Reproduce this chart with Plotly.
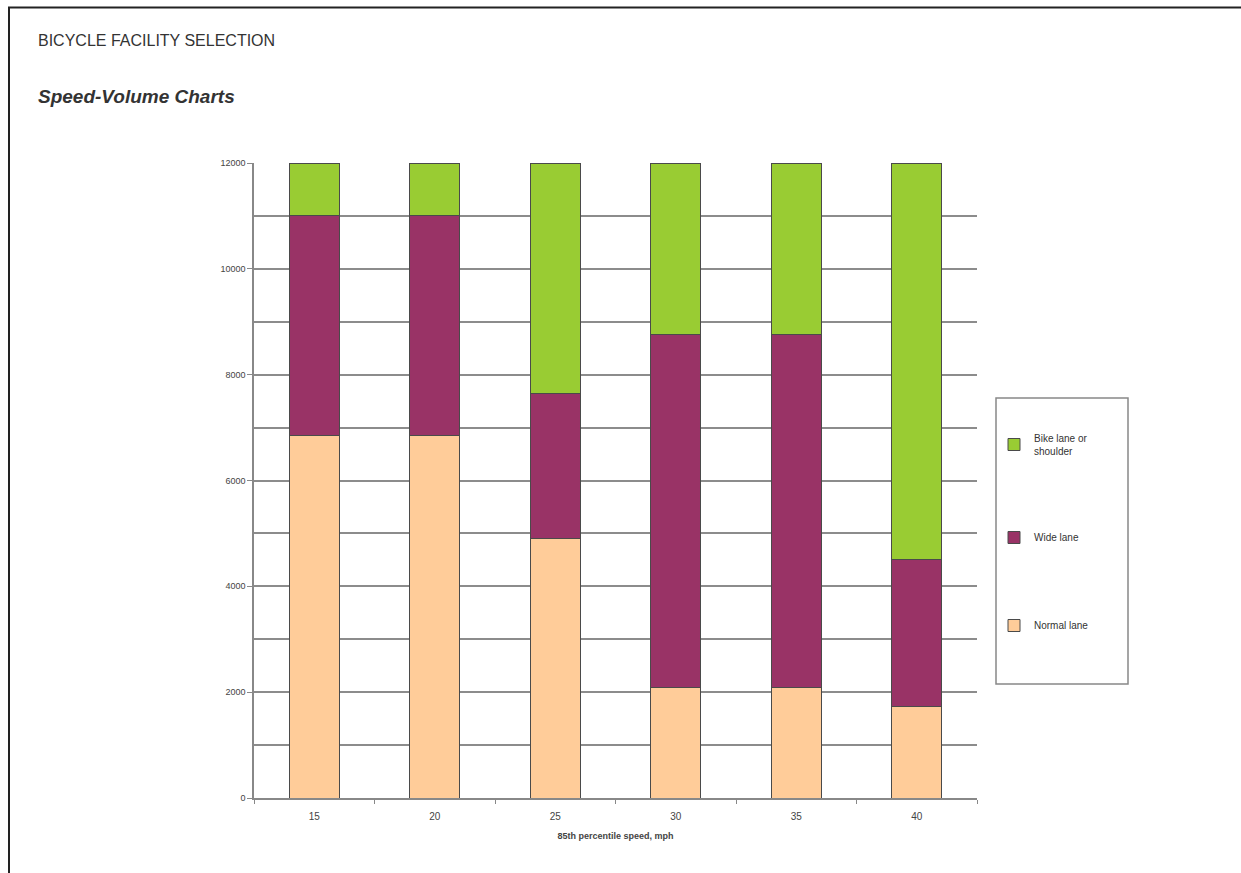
import plotly.graph_objects as go

W, H = 1241, 873
L, R, T, B = 254, 977, 163, 798  # plot area in pixels

speeds = ["15", "20", "25", "30", "35", "40"]
normal_lane = [6850, 6850, 4900, 2080, 2080, 1720]
wide_lane = [4150, 4150, 2750, 6670, 6670, 2780]
bike_lane = [1000, 1000, 4350, 3250, 3250, 7500]
y_ticks = [0, 2000, 4000, 6000, 8000, 10000, 12000]
y_tick_text = [str(v) for v in y_ticks]

def px(x):
    return (x - L) / (R - L)

def py(y):
    return (B - y) / (B - T)

FONT = "Liberation Sans, Arial, sans-serif"
outline = dict(color="#4a4a4a", width=1)

fig = go.Figure()
fig.add_trace(go.Bar(x=speeds, y=normal_lane, name="Normal lane", legendgroup="n", legendrank=3,
                     marker=dict(color="#ffcc99", line=outline)))
fig.add_trace(go.Bar(x=speeds, y=wide_lane, name="Wide lane", legendgroup="w", legendrank=2,
                     marker=dict(color="#993366", line=outline)))
fig.add_trace(go.Bar(x=speeds, y=bike_lane, name="Bike lane or<br>shoulder", legendgroup="b", legendrank=1,
                     marker=dict(color="#99cc33", line=outline)))

fig.update_layout(
    width=W, height=H,
    margin=dict(l=L, r=W - R, t=T, b=H - B),
    paper_bgcolor="white", plot_bgcolor="white",
    barmode="stack", bargap=0.585,
    font=dict(family=FONT, size=9, color="#444"),
    showlegend=True,
    legend=dict(x=px(994), y=py(425), xanchor="left", yanchor="top",
                traceorder="grouped", tracegroupgap=69,
                font=dict(family=FONT, size=10, color="#333"),
                bgcolor="rgba(0,0,0,0)", borderwidth=0, itemwidth=30),
    xaxis=dict(type="category", showgrid=False, showline=True, linecolor="#888", linewidth=2,
               ticks="outside", tickson="boundaries", ticklen=4, tickcolor="#888",
               ticklabelstandoff=8,
               tickfont=dict(size=10, color="#444"),
               title=dict(text="<b>85th percentile speed, mph</b>", font=dict(size=9, color="#444"), standoff=12)),
    yaxis=dict(range=[0, 12000], tickvals=y_ticks, ticktext=y_tick_text,
               showgrid=True, gridcolor="#8c8c8c", gridwidth=1.5,
               minor=dict(dtick=1000, showgrid=True, gridcolor="#8c8c8c", gridwidth=1.5),
               showline=True, linecolor="#888", linewidth=1.5, zeroline=False,
               ticks="outside", ticklen=5, tickcolor="#888",
               tickfont=dict(size=9, color="#444")),
    shapes=[
        dict(type="rect", xref="paper", yref="paper", x0=px(996), x1=px(1128), y0=py(684), y1=py(398),
             line=dict(color="#888", width=1.5), fillcolor="rgba(0,0,0,0)"),
        dict(type="line", xref="paper", yref="paper", x0=px(8), x1=px(1241), y0=py(7.5), y1=py(7.5),
             line=dict(color="#222", width=2)),
        dict(type="line", xref="paper", yref="paper", x0=px(9), x1=px(9), y0=py(7), y1=py(873),
             line=dict(color="#222", width=2)),
    ],
    annotations=[
        dict(text="BICYCLE FACILITY SELECTION", xref="paper", yref="paper", x=px(36), y=py(40),
             xanchor="left", yanchor="middle", showarrow=False,
             font=dict(family=FONT, size=16, color="#333")),
        dict(text="<b><i>Speed-Volume Charts</i></b>", xref="paper", yref="paper", x=px(36), y=py(97),
             xanchor="left", yanchor="middle", showarrow=False,
             font=dict(family=FONT, size=19, color="#333")),
    ],
)

fig.write_html("out.html")
